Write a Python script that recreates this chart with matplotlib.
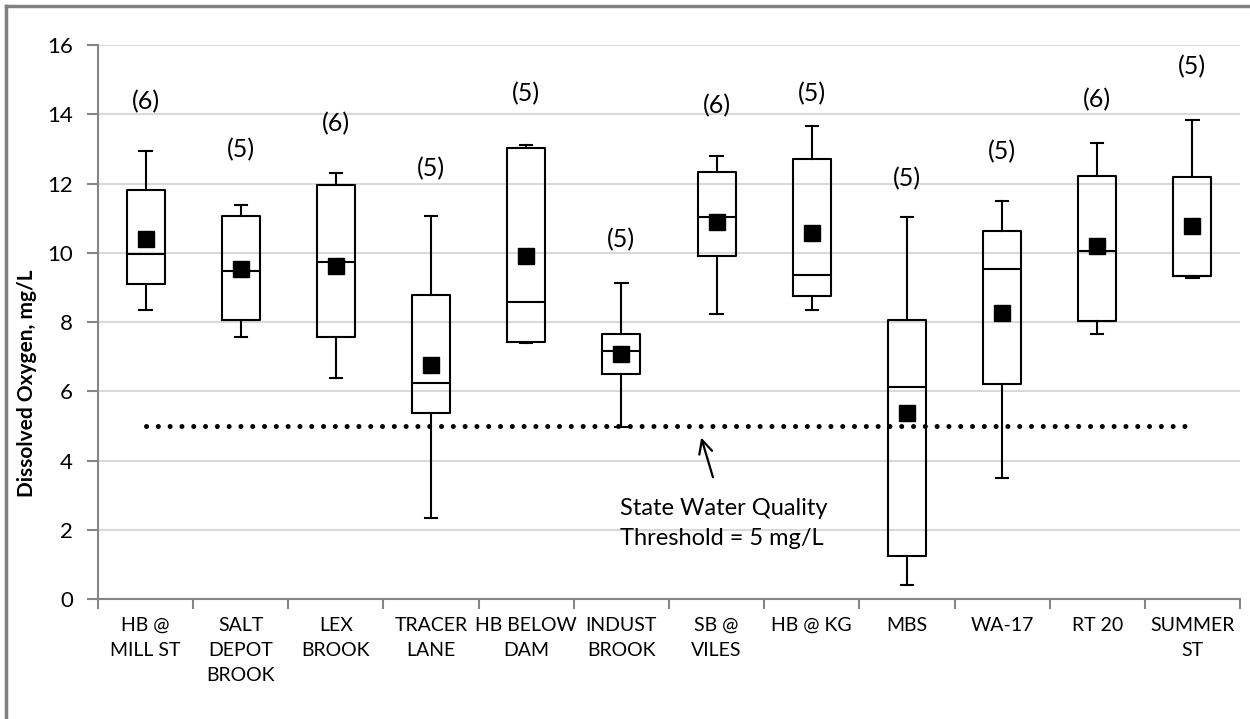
import matplotlib
matplotlib.use('agg')
import matplotlib.pyplot as plt
from matplotlib.lines import Line2D

plt.rcParams['font.family'] = ['Lato', 'DejaVu Sans']

# sites and box statistics (mg/L)
sites = ['HB @\nMILL ST', 'SALT\nDEPOT\nBROOK', 'LEX\nBROOK', 'TRACER\nLANE',
         'HB BELOW\nDAM', 'INDUST\nBROOK', 'SB @\nVILES', 'HB @ KG', 'MBS',
         'WA-17', 'RT 20', 'SUMMER\nST']
wmin = [8.34, 7.58, 6.39, 2.35, 7.39, 4.96, 8.22, 8.34, 0.40, 3.49, 7.64, 9.26]
q1 = [9.10, 8.06, 7.57, 5.38, 7.43, 6.50, 9.92, 8.75, 1.24, 6.21, 8.03, 9.32]
med = [9.96, 9.47, 9.74, 6.23, 8.57, 7.17, 11.03, 9.36, 6.11, 9.52, 10.05, 9.32]
q3 = [11.80, 11.05, 11.95, 8.77, 13.02, 7.65, 12.33, 12.70, 8.06, 10.64, 12.22, 12.20]
wmax = [12.94, 11.39, 12.29, 11.06, 13.11, 9.14, 12.80, 13.67, 11.02, 11.49, 13.16, 13.83]
means = [10.41, 9.52, 9.62, 6.76, 9.91, 7.08, 10.90, 10.57, 5.37, 8.27, 10.20, 10.78]
n = [6, 5, 6, 5, 5, 5, 6, 5, 5, 5, 6, 5]
n_y = [14.36, 12.99, 13.72, 12.44, 14.6, 10.39, 14.24, 14.6, 12.13, 12.92, 14.43, 15.37]
threshold = 5

fig = plt.figure(figsize=(12.5, 7.19), dpi=100)
ax = fig.add_axes([0.0784, 0.1669, 0.9136, 0.7705])

stats = []
for i in range(len(sites)):
    stats.append({'whislo': wmin[i], 'q1': q1[i], 'med': med[i], 'q3': q3[i],
                  'whishi': wmax[i], 'fliers': []})
pos = list(range(len(sites)))
ax.bxp(stats, positions=pos, widths=0.4, capwidths=0.13, showfliers=False,
       boxprops=dict(color='black', linewidth=1.5),
       medianprops=dict(color='black', linewidth=1.5),
       whiskerprops=dict(color='black', linewidth=1.5),
       capprops=dict(color='black', linewidth=1.5), zorder=3)
ax.plot(pos, means, 's', color='black', markersize=11, zorder=4)

for i in range(len(sites)):
    ax.text(pos[i], n_y[i], '(%d)' % n[i], ha='center', va='center', fontsize=18)

# threshold line
ax.plot([pos[0], pos[-1]], [threshold, threshold], color='black', linewidth=3.6,
        linestyle=(0, (0.01, 2.35)), dash_capstyle='round', zorder=2)
ax.annotate('', xy=(5.83, 4.74), xytext=(5.97, 3.44),
            arrowprops=dict(arrowstyle='->', color='black', lw=1.6,
                            mutation_scale=24))
ax.text(4.99, 2.17, 'State Water Quality\nThreshold = 5 mg/L', ha='left',
        va='center', fontsize=17, linespacing=1.53)

ax.set_xlim(-0.5, len(sites) - 0.5)
ax.set_ylim(0, 16)
ax.set_yticks(range(0, 17, 2))
ax.grid(axis='y', color='#d9d9d9', linewidth=1.5)
ax.set_axisbelow(True)
ax.set_xticks([p - 0.5 for p in pos] + [len(sites) - 0.5])
ax.set_xticklabels([])
ax.set_xticks(pos, minor=True)
ax.set_xticklabels(sites, minor=True, fontsize=14, linespacing=1.57)
ax.tick_params(axis='x', which='minor', length=0, pad=13)
ax.tick_params(axis='x', which='major', length=7, color='#868686', width=1.5)
ax.tick_params(axis='y', length=8, color='#868686', width=1.5, labelsize=16, pad=10)
for s in ['top', 'right']:
    ax.spines[s].set_visible(False)
for s in ['left', 'bottom']:
    ax.spines[s].set_color('#868686')
    ax.spines[s].set_linewidth(1.5)
ax.set_ylabel('Dissolved Oxygen, mg/L', fontsize=15, fontweight='bold')
ax.yaxis.set_label_coords(-0.053, 0.39)

# chart area border (left and top edges visible)
fig.add_artist(Line2D([0.0045, 0.0045], [0, 0.9915], color='#808080', linewidth=2.5))
fig.add_artist(Line2D([0.0045, 1], [0.9915, 0.9915], color='#808080', linewidth=2.5))

plt.savefig('out.png', dpi=100)
